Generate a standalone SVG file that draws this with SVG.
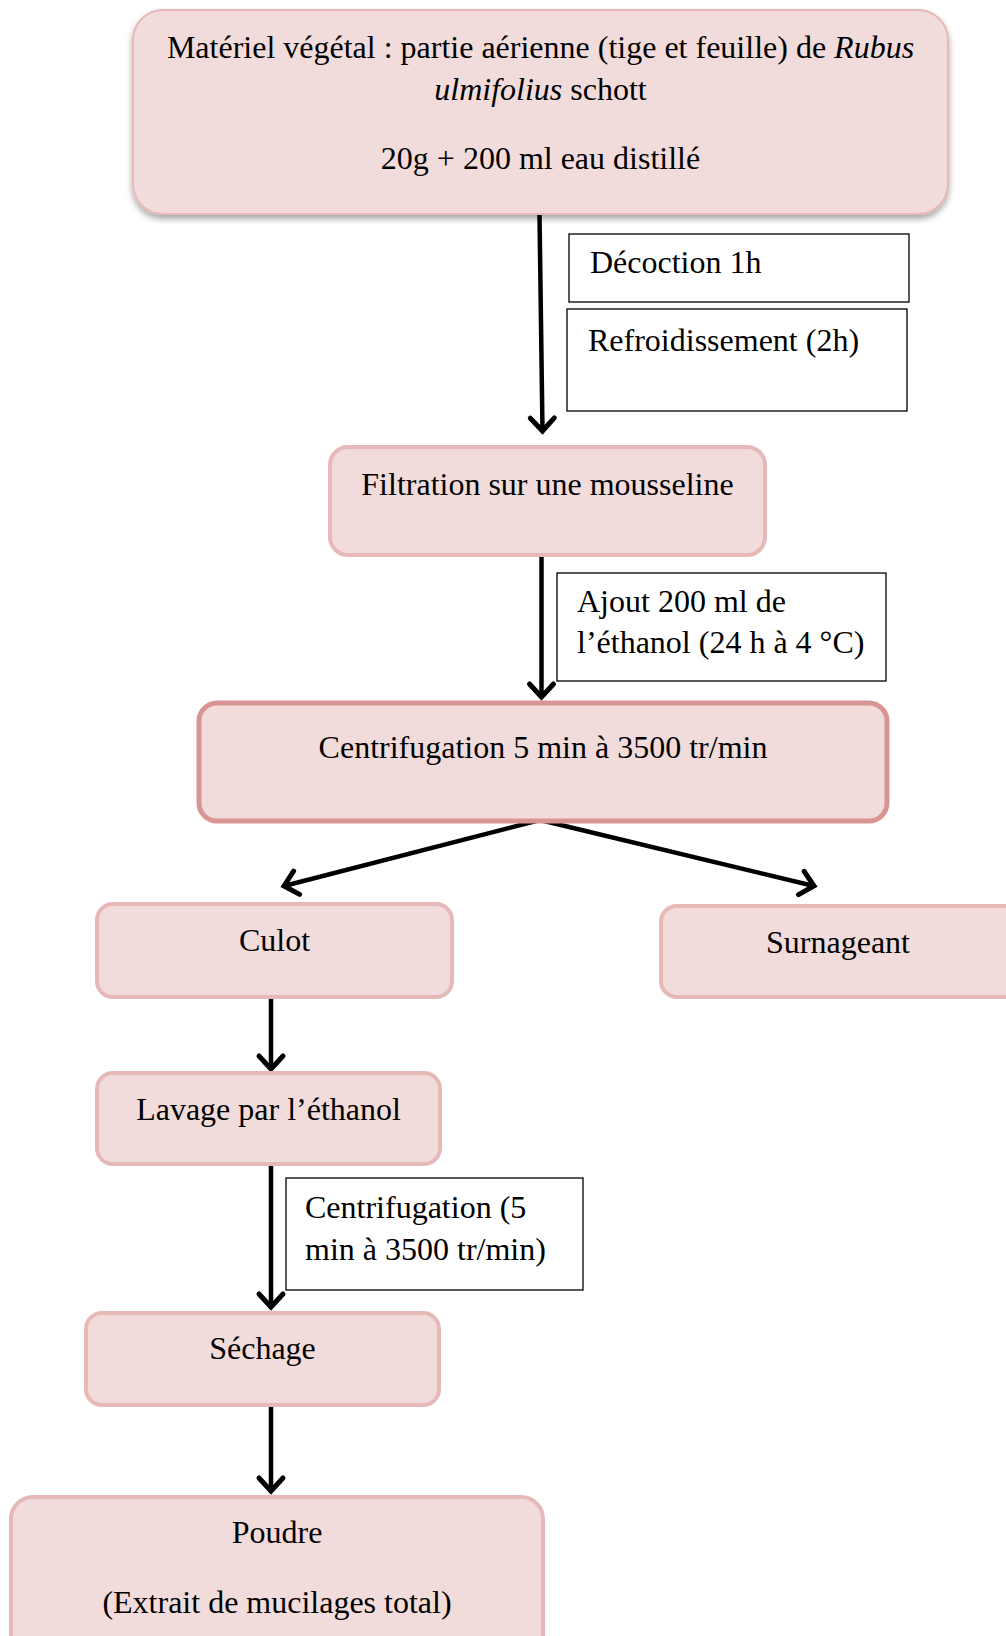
<svg xmlns="http://www.w3.org/2000/svg" width="1006" height="1636" viewBox="0 0 1006 1636">
<style>
.n{fill:#f2dcdb;stroke:#e6b9b8;stroke-width:4}
.nd{fill:#f2dcdb;stroke:#d99594;stroke-width:5}
.lb{fill:#ffffff;stroke:#000;stroke-width:1.3}
text{font-family:"Liberation Serif","Times New Roman",serif;font-size:32px;fill:#000}
.c{text-anchor:middle}
.e{stroke:#000;stroke-width:4.5;fill:none}
</style>
<defs>
<marker id="ah" markerUnits="userSpaceOnUse" markerWidth="40" markerHeight="40" refX="0" refY="0" viewBox="-20 -20 40 40" orient="auto" overflow="visible">
<path d="M-13,-12 L0,0 L-13,12" fill="none" stroke="#000" stroke-width="5" stroke-linecap="round" stroke-linejoin="miter"/>
</marker>
<filter id="sh" x="-5%" y="-10%" width="110%" height="125%">
<feDropShadow dx="0" dy="4" stdDeviation="3" flood-color="#000" flood-opacity="0.35"/>
</filter>
</defs>

<g id="connectors">
<line class="e" x1="539.5" y1="214" x2="542.5" y2="431" marker-end="url(#ah)"/>
<line class="e" x1="541.5" y1="555" x2="541.5" y2="697" marker-end="url(#ah)"/>
<line class="e" x1="540" y1="820" x2="284" y2="886" marker-end="url(#ah)"/>
<line class="e" x1="540" y1="820" x2="814" y2="886" marker-end="url(#ah)"/>
<line class="e" x1="271" y1="997" x2="271" y2="1069" marker-end="url(#ah)"/>
<line class="e" x1="271" y1="1164" x2="271" y2="1307" marker-end="url(#ah)"/>
<line class="e" x1="271" y1="1405" x2="271" y2="1491" marker-end="url(#ah)"/>
</g>

<g id="n-materiel">
<rect x="133" y="10" width="815" height="204" rx="30" fill="#f2dcdb" stroke="#e6b9b8" stroke-width="2" filter="url(#sh)"/>
<text class="c" x="540.5" y="58">Matériel végétal : partie aérienne (tige et feuille) de <tspan font-style="italic">Rubus</tspan></text>
<text class="c" x="540.5" y="100"><tspan font-style="italic">ulmifolius</tspan> schott</text>
<text class="c" x="540.5" y="169">20g + 200 ml eau distillé</text>
</g>

<g id="l-decoction">
<rect class="lb" x="569" y="234" width="340" height="68"/>
<text x="590" y="273">Décoction 1h</text>
</g>

<g id="l-refroid">
<rect class="lb" x="567" y="309" width="340" height="102"/>
<text x="588" y="351">Refroidissement (2h)</text>
</g>

<g id="n-filtration">
<rect class="n" x="330" y="447" width="435" height="108" rx="18"/>
<text class="c" x="547.5" y="495">Filtration sur une mousseline</text>
</g>

<g id="l-ajout">
<rect class="lb" x="557" y="573" width="329" height="108"/>
<text x="577" y="612">Ajout 200 ml de</text>
<text x="577" y="653">l’éthanol (24 h à 4 °C)</text>
</g>

<g id="n-centri">
<rect class="nd" x="199" y="703" width="688" height="118" rx="18"/>
<text class="c" x="543" y="758">Centrifugation 5 min à 3500 tr/min</text>
</g>

<g id="n-culot">
<rect class="n" x="97" y="904" width="355" height="93" rx="16"/>
<text class="c" x="274.5" y="951">Culot</text>
</g>

<g id="n-surnageant">
<rect class="n" x="661" y="906" width="360" height="91" rx="16"/>
<text class="c" x="838" y="953">Surnageant</text>
</g>

<g id="n-lavage">
<rect class="n" x="97" y="1073" width="343" height="91" rx="16"/>
<text class="c" x="268.5" y="1120">Lavage par l’éthanol</text>
</g>

<g id="l-centri2">
<rect class="lb" x="286" y="1178" width="297" height="112"/>
<text x="305" y="1218">Centrifugation (5</text>
<text x="305" y="1260">min à 3500 tr/min)</text>
</g>

<g id="n-sechage">
<rect class="n" x="86" y="1313" width="353" height="92" rx="16"/>
<text class="c" x="262.5" y="1359">Séchage</text>
</g>

<g id="n-poudre">
<rect class="n" x="11" y="1497" width="532" height="160" rx="22"/>
<text class="c" x="277" y="1543">Poudre</text>
<text class="c" x="277" y="1613">(Extrait de mucilages total)</text>
</g>
</svg>
